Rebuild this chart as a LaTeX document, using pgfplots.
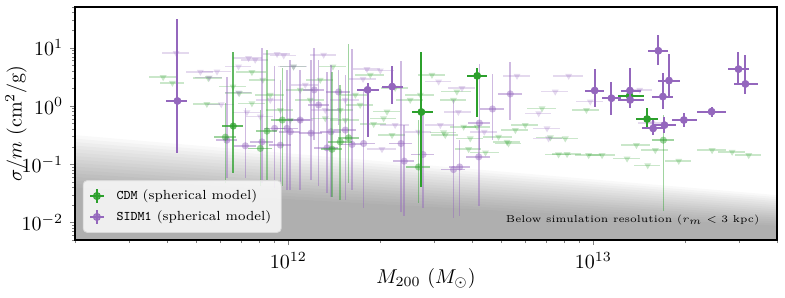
\documentclass[border=0pt]{standalone}
\usepackage{pgfplots}
\pgfplotsset{compat=1.18}
\usepackage{pgfplotstable}
\definecolor{cdm}{HTML}{2CA02C}
\definecolor{sidm}{HTML}{9467BD}

\pgfplotstableread{
M s xm xp sm sp
4.33e11 1.22 0.35e11 0.34e11 1.065 30.4
1.82e12 1.89 0.14e12 0.17e12 1.60 0.60
2.19e12 2.15 0.16e12 0.18e12 1.07 2.75
1.01e13 1.84 0.074e13 0.077e13 0.89 2.45
1.146e13 1.36 0.076e13 0.084e13 0.66 1.26
1.318e13 1.84 0.088e13 0.112e13 0.84 2.63
1.32e13 1.27 0.12e13 0.14e13 0.35 0.22
1.633e13 8.87 0.123e13 0.127e13 3.77 7.83
1.77e13 2.73 0.14e13 0.16e13 1.28 5.17
1.69e13 1.45 0.13e13 0.14e13 0.56 2.25
1.57e13 0.412 0.13e13 0.13e13 0.096 0.163
1.71e13 0.47 0.15e13 0.16e13 0.132 0.185
1.98e13 0.574 0.17e13 0.21e13 0.134 0.193
2.44e13 0.80 0.25e13 0.28e13 0.145 0.175
2.99e13 4.29 0.23e13 0.24e13 1.83 4.01
3.15e13 2.39 0.25e13 0.31e13 0.80 5.18
}\sidmsolid

\pgfplotstableread{
M s xm xp sm sp
2.73e12 0.788 0.18e12 0.25e12 0.748 7.71
4.16e12 3.29 0.30e12 0.33e12 2.64 1.23
1.50e13 0.597 0.12e13 0.13e13 0.18 0.323
1.315e13 1.49 0.115e13 0.145e13 0.15 0.15
}\cdmsolid

\pgfplotstableread{
M s r sm sp
7.23e11 0.207 0.08 0.150 0.717
8.20e11 0.242 0.09 0.195 9.64
9.02e11 0.413 0.08 0.374 4.35
9.90e11 0.413 0.09 0.377 3.77
9.42e11 0.213 0.08 0.171 2.60
1.015e12 0.361 0.08 0.325 5.85
1.187e12 0.342 0.09 0.289 5.87
1.216e12 1.89 0.08 1.63 7.99
1.257e12 1.04 0.08 0.997 5.00
1.339e12 0.191 0.09 0.159 3.71
1.380e12 0.361 0.08 0.334 4.73
1.462e12 1.74 0.09 1.27 2.44
1.538e12 0.386 0.08 0.362 3.03
1.618e12 0.219 0.08 0.183 9.38
1.766e12 0.227 0.09 0.209 1.66
2.342e12 0.227 0.09 0.212 5.74
2.40e12 0.113 0.08 0.100 0.357
2.765e12 0.147 0.09 0.129 0.706
3.48e12 0.081 0.09 0.069 1.19
3.645e12 0.0898 0.08 0.077 0.169
4.23e12 0.509 0.08 0.335 4.79
4.21e12 0.134 0.09 0.115 0.336
4.67e12 0.888 0.09 0.629 2.67
5.34e12 1.61 0.09 1.04 4.13
6.29e11 0.259 0.08 0.202 2.94
1.094e12 0.574 0.08 0.538 3.61
}\sidmfaint

\pgfplotstableread{
M s r sm sp
6.22e11 0.292 0.08 0.245 0.838
8.51e11 0.371 0.08 0.318 8.87
8.10e11 0.187 0.09 0.144 0.666
9.56e11 0.574 0.08 0.531 3.90
1.480e12 0.242 0.09 0.218 2.06
1.577e12 0.284 0.08 0.237 11.3
1.391e12 0.181 0.08 0.154 3.72
2.673e12 0.0898 0.09 0.0685 0.484
1.696e13 0.259 0.08 0.243 0.44
}\cdmfaint

\pgfplotstableread{
M s r sm sp
6.60e11 0.452 0.08 0.382 8.08
}\cdmmid

\pgfplotstableread{
M s r
3.89e11 3.12 0.10
4.17e11 2.49 0.09
5.41e11 1.08 0.10
5.47e11 3.00 0.11
6.59e11 2.15 0.10
6.91e11 1.66 0.10
7.60e11 3.81 0.11
7.60e11 1.11 0.10
1.04e12 4.76 0.10
1.401e12 4.76 0.10
1.857e12 3.42 0.11
2.107e12 0.797 0.10
2.053e12 0.614 0.10
1.905e12 0.49 0.10
2.958e12 3.42 0.10
3.57e12 1.76 0.11
3.48e12 1.27 0.10
3.27e12 0.316 0.10
4.16e12 0.44 0.10
4.89e12 0.296 0.11
5.55e12 0.386 0.10
5.27e12 0.227 0.10
6.79e12 0.912 0.11
7.23e12 0.289 0.10
8.09e12 0.277 0.10
9.49e12 0.853 0.10
8.20e12 0.149 0.11
9.65e12 0.143 0.10
1.068e13 0.143 0.10
1.29e13 0.125 0.10
1.384e13 0.213 0.11
1.507e13 0.096 0.10
1.596e13 0.174 0.10
1.905e13 0.114 0.10
2.45e13 0.174 0.11
2.85e13 0.163 0.10
3.23e13 0.143 0.10
3.23e12 0.352 0.10
3.757e12 0.44 0.10
3.95e12 0.277 0.10
3.90e12 0.181 0.10
4.43e12 0.159 0.11
5.21e12 0.242 0.10
7.69e12 0.147 0.10
2.188e12 0.316 0.10
1.094e12 1.89 0.10
1.18e12 1.27 0.11
1.273e12 2.81 0.10
1.48e12 0.853 0.10
1.659e12 1.55 0.10
9.42e11 0.853 0.10
8.73e11 1.55 0.11
1.015e12 0.574 0.10
8.25e11 2.81 0.10
1.322e12 0.614 0.10
1.538e12 0.574 0.11
1.72e12 1.04 0.10
2.51e12 1.27 0.10
2.24e12 2.04 0.10
2.71e12 1.55 0.11
5.98e12 0.47 0.10
}\cdmtri

\pgfplotstableread{
M s r
4.29e11 8.11 0.10
5.51e11 3.08 0.10
5.84e11 3.90 0.11
6.03e11 1.07 0.10
6.87e11 1.69 0.10
6.87e11 4.76 0.10
7.41e11 6.64 0.11
7.79e11 6.21 0.10
9.19e11 7.79 0.10
9.66e11 7.36 0.10
1.041e12 4.76 0.11
7.32e11 0.778 0.10
8.10e11 0.655 0.10
1.306e12 7.57 0.10
1.811e12 4.29 0.10
2.003e12 4.06 0.11
1.758e12 2.92 0.10
3.11e12 2.62 0.10
3.71e12 2.02 0.10
3.15e12 0.47 0.11
4.39e12 0.361 0.10
5.62e12 3.29 0.10
8.30e12 3.29 0.11
7.50e12 1.76 0.10
6.62e12 0.748 0.10
7.05e12 0.413 0.10
7.13e12 0.277 0.11
9.77e12 1.19 0.10
1.419e13 1.89 0.10
1.557e13 0.515 0.10
2.028e12 0.181 0.11
2.673e12 0.361 0.10
1.137e12 2.30 0.10
1.322e12 0.853 0.10
1.538e12 1.27 0.11
1.094e12 0.574 0.10
3.61e12 0.788 0.10
5.15e11 3.85 0.10
2.24e12 0.47 0.11
8.73e11 1.27 0.10
}\sidmtri

\pgfplotsset{
  tri/.style={only marks, color=#1, mark=triangle*, mark size=2pt,
    mark options={rotate=180, fill=#1, draw=#1, fill opacity=0.25, draw opacity=0},
    error bars/x dir=both, error bars/x explicit relative, error bars/error mark=none,
    error bars/error bar style={draw=#1, line width=0.75pt, draw opacity=0.25}},
  circ/.style 2 args={only marks, color=#1, mark=*, mark size=1.8pt,
    mark options={fill=#1, draw=#1, fill opacity=#2, draw opacity=0},
    error bars/x dir=both, error bars/x explicit relative,
    error bars/y dir=both, error bars/y explicit, error bars/error mark=none,
    error bars/error bar style={draw=#1, line width=0.8pt, draw opacity=#2}},
  solidpt/.style={only marks, color=#1, mark=*, mark size=1.8pt,
    mark options={fill=#1, draw=#1, line width=0.3pt},
    error bars/x dir=both, error bars/x explicit,
    error bars/y dir=both, error bars/y explicit, error bars/error mark=none,
    error bars/error bar style={draw=#1, line width=1pt}},
  shade/.style={draw=none, fill=black, fill opacity=0.022, forget plot},
}

\begin{document}
\begin{tikzpicture}
\begin{axis}[
  scale only axis, width=351pt, height=116.5pt,
  xmode=log, ymode=log,
  xmin=2e11, xmax=4e13, ymin=0.005, ymax=50,
  clip mode=individual,
  tick pos=left, tick align=outside,
  major tick length=2.5pt, minor tick length=1.5pt,
  axis line style={line width=0.6pt},
  legend style={at={(0.011,0.031)}, anchor=south west, draw=black!15,
    rounded corners=2pt, fill=white, fill opacity=0.8, text opacity=1,
    font=\fontsize{6.6}{8}\selectfont, inner xsep=3pt, inner ysep=2.5pt,
    cells={anchor=west}},
]
% shaded region below simulation resolution
\addplot[shade] coordinates {(2e11,0.316) (4e13,0.0295) (4e13,1e-3) (2e11,1e-3)} -- cycle;
\addplot[shade] coordinates {(2e11,0.275) (4e13,0.0272) (4e13,1e-3) (2e11,1e-3)} -- cycle;
\addplot[shade] coordinates {(2e11,0.240) (4e13,0.0251) (4e13,1e-3) (2e11,1e-3)} -- cycle;
\addplot[shade] coordinates {(2e11,0.209) (4e13,0.0232) (4e13,1e-3) (2e11,1e-3)} -- cycle;
\addplot[shade] coordinates {(2e11,0.182) (4e13,0.0214) (4e13,1e-3) (2e11,1e-3)} -- cycle;
\addplot[shade] coordinates {(2e11,0.158) (4e13,0.0197) (4e13,1e-3) (2e11,1e-3)} -- cycle;
\addplot[shade] coordinates {(2e11,0.138) (4e13,0.0182) (4e13,1e-3) (2e11,1e-3)} -- cycle;
\addplot[shade] coordinates {(2e11,0.120) (4e13,0.0168) (4e13,1e-3) (2e11,1e-3)} -- cycle;
\addplot[shade] coordinates {(2e11,0.105) (4e13,0.0155) (4e13,1e-3) (2e11,1e-3)} -- cycle;
\addplot[shade] coordinates {(2e11,0.0912) (4e13,0.0143) (4e13,1e-3) (2e11,1e-3)} -- cycle;
\addplot[shade] coordinates {(2e11,0.0794) (4e13,0.0132) (4e13,1e-3) (2e11,1e-3)} -- cycle;
\addplot[shade] coordinates {(2e11,0.0692) (4e13,0.0122) (4e13,1e-3) (2e11,1e-3)} -- cycle;
\addplot[shade] coordinates {(2e11,0.0603) (4e13,0.0112) (4e13,1e-3) (2e11,1e-3)} -- cycle;
\addplot[shade] coordinates {(2e11,0.0525) (4e13,0.0104) (4e13,1e-3) (2e11,1e-3)} -- cycle;
\addplot[shade] coordinates {(2e11,0.0457) (4e13,0.00955) (4e13,1e-3) (2e11,1e-3)} -- cycle;
\addplot[shade] coordinates {(2e11,0.0398) (4e13,0.00881) (4e13,1e-3) (2e11,1e-3)} -- cycle;

% faint upper limits
\addplot[tri=cdm, forget plot] table[x=M, y=s, x error=r] {\cdmtri};
\addplot[tri=sidm, forget plot] table[x=M, y=s, x error=r] {\sidmtri};
% faint measurements
\addplot[circ={sidm}{0.45}, forget plot] table[x=M, y=s, x error=r, y error plus=sp, y error minus=sm] {\sidmfaint};
\addplot[circ={cdm}{0.45}, forget plot] table[x=M, y=s, x error=r, y error plus=sp, y error minus=sm] {\cdmfaint};
\addplot[circ={cdm}{0.75}, forget plot] table[x=M, y=s, x error=r, y error plus=sp, y error minus=sm] {\cdmmid};
% solid measurements
\addplot[solidpt=cdm, forget plot] table[x=M, y=s, x error plus=xp, x error minus=xm, y error plus=sp, y error minus=sm] {\cdmsolid};
\addplot[solidpt=sidm, forget plot] table[x=M, y=s, x error plus=xp, x error minus=xm, y error plus=sp, y error minus=sm] {\sidmsolid};

\addlegendimage{legend image code/.code={\draw[cdm, line width=0.9pt] (0.13cm,0cm) -- (0.37cm,0cm) (0.25cm,-3.3pt) -- (0.25cm,3.3pt); \fill[cdm] (0.25cm,0cm) circle (1.8pt);}}
\addlegendentry{\hspace{4pt}\texttt{CDM} (spherical model)}
\addlegendimage{legend image code/.code={\draw[sidm, line width=0.9pt] (0.13cm,0cm) -- (0.37cm,0cm) (0.25cm,-3.3pt) -- (0.25cm,3.3pt); \fill[sidm] (0.25cm,0cm) circle (1.8pt);}}
\addlegendentry{\hspace{4pt}\texttt{SIDM1} (spherical model)}

\node[anchor=base east, font=\fontsize{5}{6}\selectfont] at (rel axis cs:0.985,0.077) {Below simulation resolution ($r_m < 3$ kpc)};
\end{axis}
\node[anchor=center] at ([yshift=-19pt]current axis.south) {$M_{200}\ (M_\odot)$};
\node[anchor=south, rotate=90, inner sep=0pt] at ([xshift=-24pt]current axis.west) {$\sigma/m\ (\mathrm{cm}^2/\mathrm{g})$};
\pgfresetboundingbox
\path[use as bounding box] ([shift={(-37.5pt,-28.5pt)}]current axis.south west) rectangle ([shift={(4pt,3.5pt)}]current axis.north east);
\end{tikzpicture}
\end{document}
